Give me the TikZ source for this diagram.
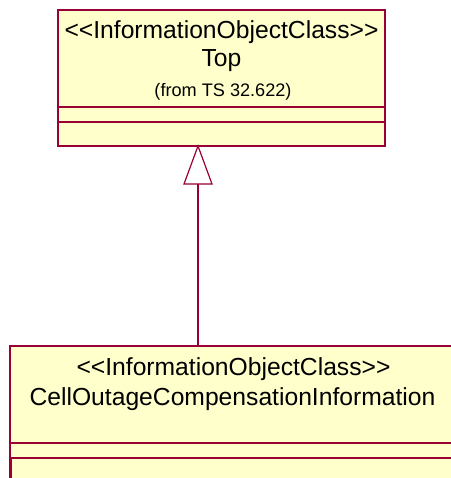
\documentclass[tikz,border=0pt]{standalone}
\usepackage{fontspec}
\setmainfont{Liberation Sans}
\definecolor{umlfill}{HTML}{FFFFCC}
\definecolor{umlline}{HTML}{990033}
\begin{document}
\begin{tikzpicture}[x=0.75pt,y=-0.75pt,
  classbox/.style={draw=umlline,fill=umlfill,line width=0.9pt},
  sepline/.style={draw=umlline,line width=0.9pt},
  bigtext/.style={anchor=base,inner sep=0pt,font=\fontsize{18.5}{22}\selectfont},
  smalltext/.style={anchor=base,inner sep=0pt,font=\fontsize{13.6}{16}\selectfont},
  genline/.style={draw=umlline,line width=0.9pt}]
\useasboundingbox (0,0) rectangle (450,478);
% Top class
\path[classbox] (58,10) rectangle (385,146);
\draw[sepline] (58,107) -- (385,107);
\draw[sepline] (58,122) -- (385,122);
\node[bigtext] (topst) at (221.5,38.5) {<{}<InformationObjectClass>{}>};
\node[bigtext] (topname) at (221.5,67) {Top};
\node[smalltext] (topfrom) at (223,96.5) {(from TS 32.622)};
\coordinate (topbot) at (198,146);
% Bottom class
\path[classbox] (10,346) rectangle (456,495);
\draw[sepline] (10,443) -- (456,443);
\draw[sepline] (10,458) -- (456,458);
\draw[umlline,line width=1.6pt] (10.5,458) -- (10.5,478);
\node[bigtext] (botst) at (233.5,375) {<{}<InformationObjectClass>{}>};
\node[bigtext] (botname) at (232.5,405) {CellOutageCompensationInformation};
\coordinate (bottop) at (198,346);
% Generalization
\coordinate (tribase) at (198,184);
\draw[genline,fill=white] (topbot) -- (212,184) -- (184,184) -- cycle;
\draw[genline] (bottop) -- (tribase);
\end{tikzpicture}
\end{document}
